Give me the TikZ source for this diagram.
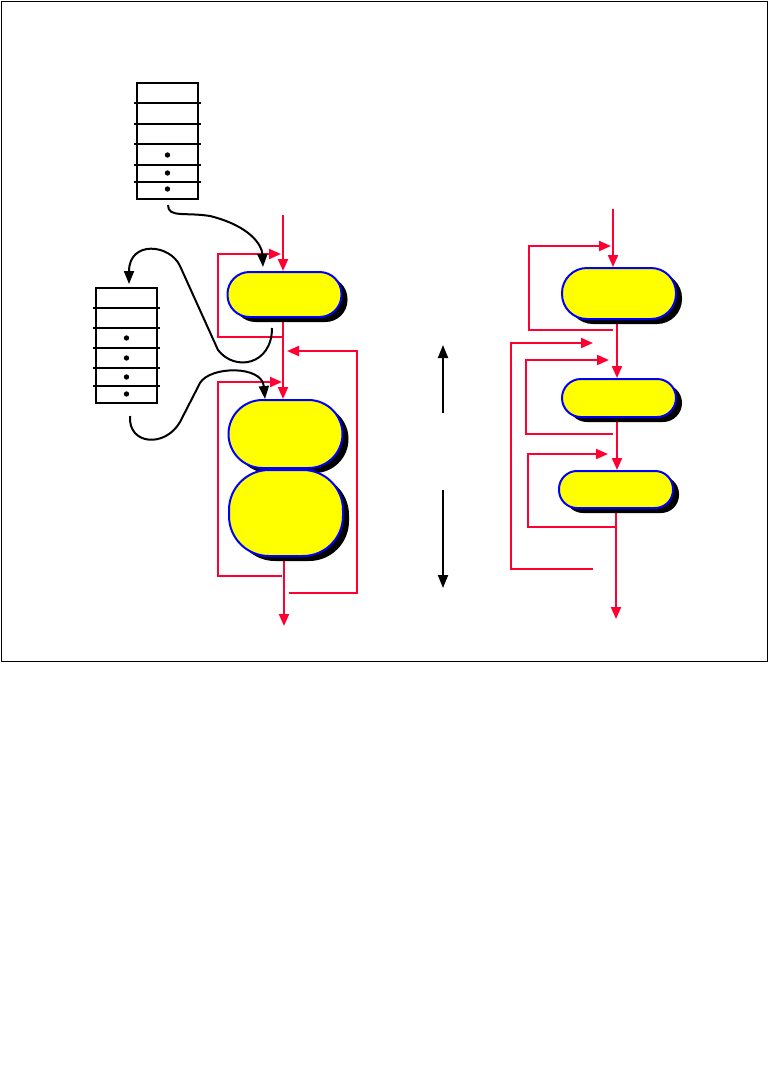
\documentclass[tikz,border=0pt]{standalone}
\usetikzlibrary{arrows.meta,shadows,backgrounds,calc}
\definecolor{flowred}{RGB}{255,0,51}
\definecolor{pillfill}{RGB}{255,255,0}
\definecolor{pillline}{RGB}{0,0,255}
\tikzset{
  pill/.style   = {draw=pillline, line width=2pt, fill=pillfill, inner sep=0pt,
                   minimum width=114pt,
                   drop shadow={fill=black, opacity=1, shadow xshift=6pt, shadow yshift=-5pt}},
  stack/.style  = {draw=black, line width=2pt, inner sep=0pt, minimum width=61pt},
  rowline/.style= {draw=black, line width=1.5pt},
  flow/.style   = {draw=flowred, line width=2pt, -{Triangle[length=12pt,width=10pt]}},
  curv/.style   = {draw=black, line width=2pt, -{Triangle[length=13pt,width=10pt]}},
}

\begin{document}
\begin{tikzpicture}[x=1pt, y=-1pt]
  \useasboundingbox (0,0) rectangle (768,1090);
  \draw[line width=1pt] (1,1) rectangle (767,661);

  % stacks
  \node[stack, minimum height=116pt] (stackA) at (167.5,141) {};
  \foreach \yy in {21,42,62,83,100}
    \draw[rowline] ([xshift=-2pt,yshift=-\yy pt]stackA.north west) -- ([xshift=2pt,yshift=-\yy pt]stackA.north east);
  \foreach \yy in {73,91,107}
    \fill ([yshift=-\yy pt]stackA.north) circle (2.7pt);

  \node[stack, minimum height=115pt] (stackB) at (126.5,345.5) {};
  \foreach \yy in {21,41,61,81,99}
    \draw[rowline] ([xshift=-2pt,yshift=-\yy pt]stackB.north west) -- ([xshift=2pt,yshift=-\yy pt]stackB.north east);
  \foreach \yy in {51,71,90,107}
    \fill ([yshift=-\yy pt]stackB.north) circle (2.7pt);

  % pills
  \node[pill, minimum height=45pt, rounded corners=22pt] (pillL1) at (284.5,294.5) {};
  \node[pill, minimum height=68pt, rounded corners=34pt] (pillL2) at (285.5,434) {};
  \node[pill, minimum height=86pt, rounded corners=40pt] (pillL3) at (286,513) {};
  \node[pill, minimum height=51pt, rounded corners=25pt] (pillR1) at (619,293.5) {};
  \node[pill, minimum height=38pt, rounded corners=19pt] (pillR2) at (619,398) {};
  \node[pill, minimum height=37pt, rounded corners=18pt] (pillR3) at (616,489.5) {};

  % free ends
  \coordinate (inL) at (283,215);   \coordinate (outL) at (284,626);
  \coordinate (inR) at (613,209);   \coordinate (outR) at (616,619);
  \coordinate (l1s) at (283,337);   \coordinate (l1e) at (281,254);
  \coordinate (l2s) at (289,593);   \coordinate (l2e) at (287,351);
  \coordinate (l3s) at (282,576);   \coordinate (l3e) at (282,382);
  \coordinate (r1s) at (613,330);   \coordinate (r1e) at (611,246);
  \coordinate (r2s) at (593,569);   \coordinate (r2e) at (593,343);
  \coordinate (r3s) at (613,434);   \coordinate (r3e) at (609,360);
  \coordinate (r4s) at (617,527);   \coordinate (r4e) at (608,454);

  \begin{scope}[on background layer]
    \draw[flow] (inL) -- (inL |- pillL1.north);
    \draw[flow] (inL |- pillL1.south) -- (inL |- pillL2.north);
    \draw[flow] (outL |- pillL3.south) -- (outL);
    \draw[flow] (l1s) -- ++(-65,0) |- (l1e);
    \draw[flow] (l2s) -- ++(68,0) |- (l2e);
    \draw[flow] (l3s) -- ++(-64,0) |- (l3e);

    \draw[flow] (inR) -- (inR |- pillR1.north);
    \draw[flow] ([xshift=-2pt]pillR1.south) -- ([xshift=-2pt]pillR1.south |- pillR2.north);
    \draw[flow] ([xshift=-2pt]pillR2.south) -- ([xshift=-2pt]pillR2.south |- pillR3.north);
    \draw[flow] (outR |- pillR3.south) -- (outR);
    \draw[flow] (r1s) -- ++(-84,0) |- (r1e);
    \draw[flow] (r2s) -- ++(-82,0) |- (r2e);
    \draw[flow] (r3s) -- ++(-87,0) |- (r3e);
    \draw[flow] (r4s) -- ++(-89,0) |- (r4e);
  \end{scope}

  % black curves
  \coordinate (c1s) at (168,205);  \coordinate (c1e) at (263,267);
  \coordinate (c2s) at (272,328);  \coordinate (c2e) at (129,284);
  \coordinate (c3s) at (130,416);  \coordinate (c3e) at (265,399);
  \draw[curv] (c1s) .. controls (168,218) and (185,212) .. (210,216)
                    .. controls (250,226) and (262,245) .. (c1e);
  \draw[curv] (c2s) .. controls (272,365) and (235,372) .. (218,350)
                    -- (180,266) .. controls (170,244) and (129,240) .. (c2e);
  \draw[curv] (c3s) .. controls (128,445) and (165,448) .. (180,422)
                    -- (200,383) .. controls (210,366) and (262,365) .. (c3e);

  % middle arrows
  \coordinate (upS) at (443,413);  \coordinate (upE) at (443,345);
  \coordinate (dnS) at (443,490);  \coordinate (dnE) at (443,588);
  \draw[curv] (upS) -- (upE);
  \draw[curv] (dnS) -- (dnE);
\end{tikzpicture}
\end{document}
